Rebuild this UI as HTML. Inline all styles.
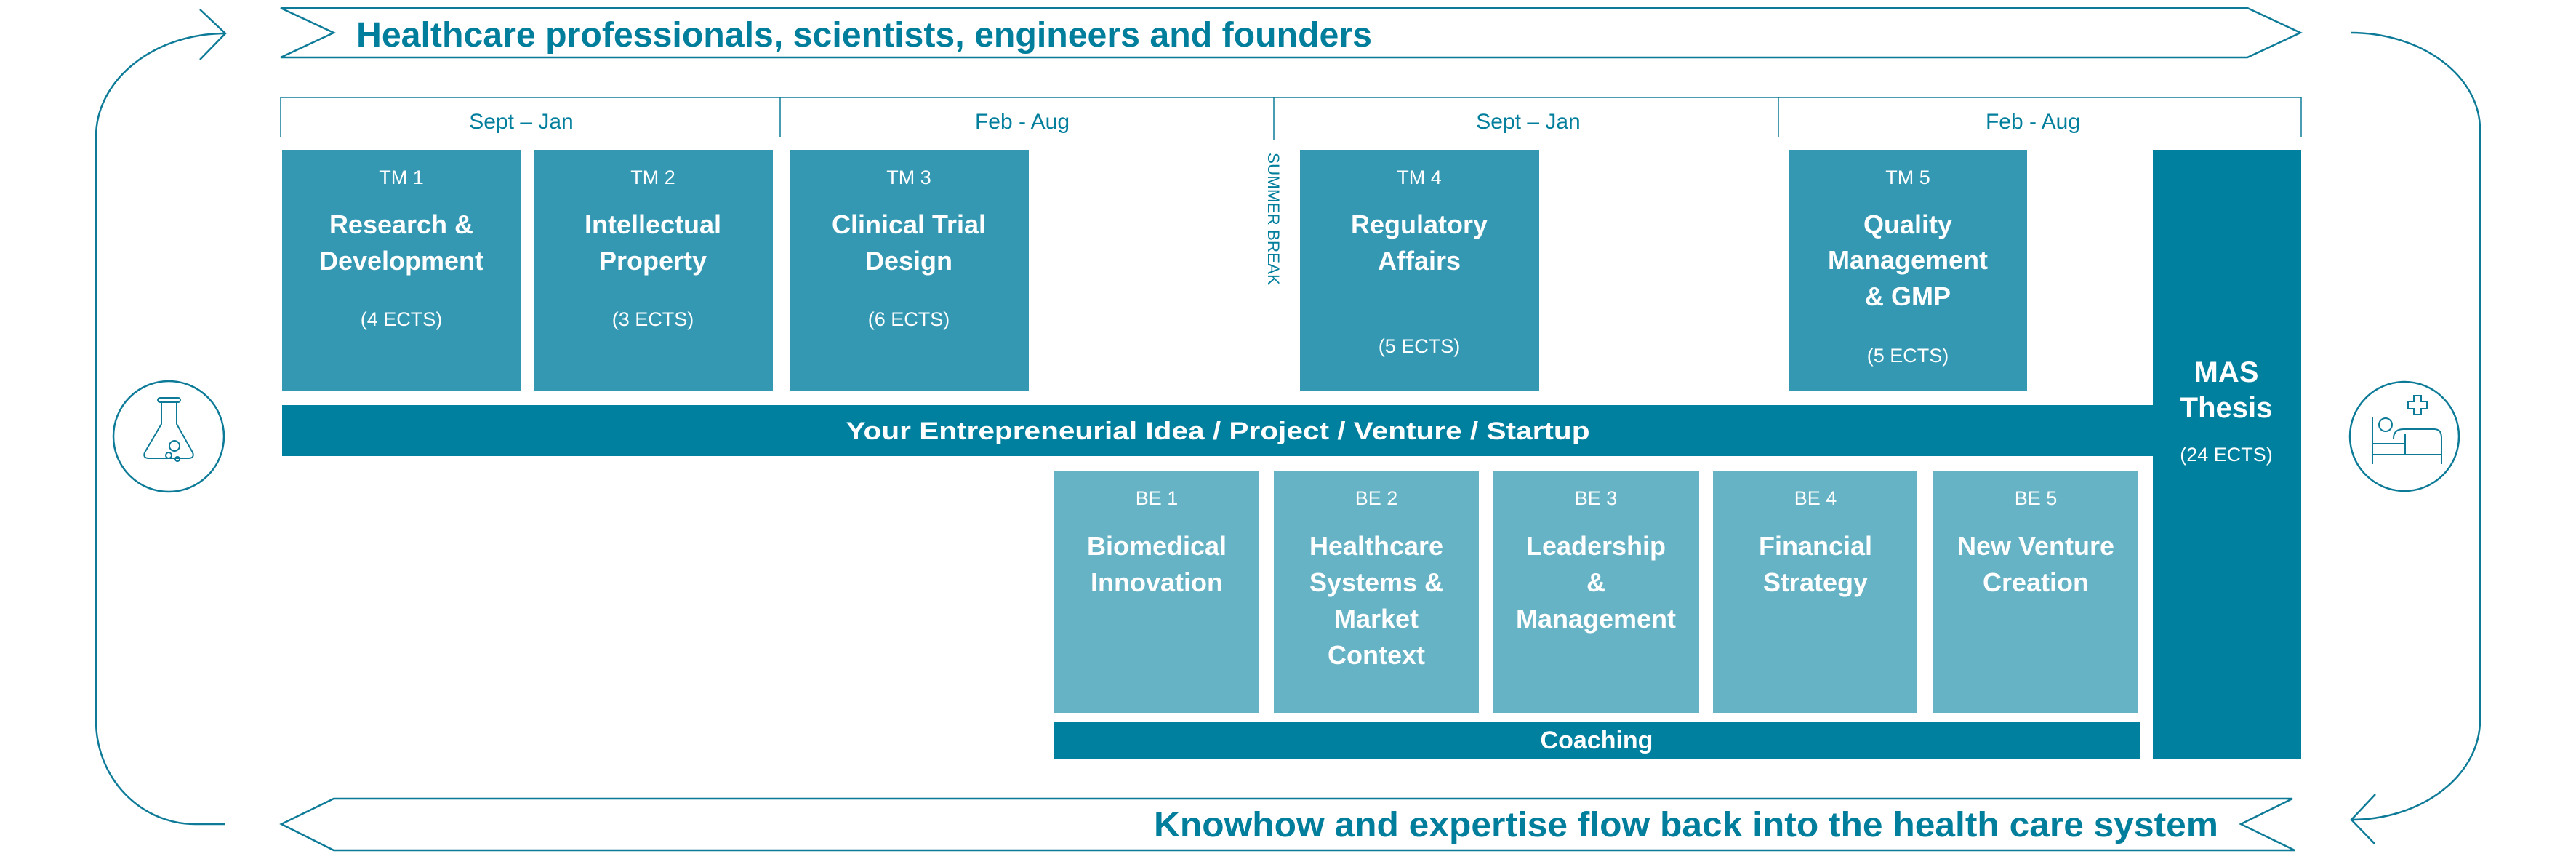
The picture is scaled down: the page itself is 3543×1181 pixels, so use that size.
<!DOCTYPE html>
<html><head><meta charset="utf-8"><style>
html,body{margin:0;padding:0;background:#fff;}
svg{display:block;}
text{font-family:"Liberation Sans",sans-serif;}
</style></head><body>
<svg width="3543" height="1181" viewBox="0 0 3543 1181" xmlns="http://www.w3.org/2000/svg">
<g fill="none" stroke="#0d7b98" stroke-width="2.5">
  <polygon points="386,11 3091,11 3164,45 3091,79 386,79 459,45"/>
  <polygon points="459,1098 3153,1098 3082,1133 3156,1169 459,1169 387,1133"/>
  <path d="M310,46 A178,142 0 0 0 132,188 L132,991 A136,142 0 0 0 268,1133 L309,1133"/>
  <polyline points="275,13 310,46 275,82"/>
  <path d="M3233,45 A178,133 0 0 1 3411,178 L3411,990 A177,137 0 0 1 3234,1127"/>
  <polyline points="3267,1092 3234,1127 3266,1160"/>
  <polyline points="386,188 386,134 3165,134 3165,188" stroke-width="1.5"/>
  <line x1="1073" y1="134" x2="1073" y2="188" stroke-width="1.5"/>
  <line x1="1752" y1="134" x2="1752" y2="192" stroke-width="1.5"/>
  <line x1="2446" y1="134" x2="2446" y2="188" stroke-width="1.5"/>
  <circle cx="232" cy="600" r="76"/>
  <path d="M222,552 L222,583 L199,622 Q196,630 205,630 L259,630 Q268,630 265,622 L243,583 L243,552" stroke-width="2"/>
  <rect x="217" y="547" width="31" height="6" rx="3" stroke-width="2"/>
  <circle cx="240" cy="613" r="7" stroke-width="2"/>
  <circle cx="232" cy="626" r="4" stroke-width="2"/>
  <circle cx="244" cy="631" r="3" stroke-width="2"/>
  <circle cx="3307" cy="600" r="75"/>
  <g stroke-width="2">
    <line x1="3263" y1="573" x2="3263" y2="638"/>
    <line x1="3263" y1="625" x2="3358" y2="625"/>
    <line x1="3263" y1="610" x2="3308" y2="610"/>
    <line x1="3308" y1="597" x2="3308" y2="625"/>
    <path d="M3292,603 Q3292,590 3306,590 L3348,590 Q3358,590 3358,602 L3358,638"/>
    <circle cx="3281" cy="584" r="9"/>
    <path d="M3320,544 h10 v8 h8 v10 h-8 v8 h-10 v-8 h-8 v-10 h8 z"/>
  </g>
</g>

<g fill="#3498b3">
  <rect x="388" y="206" width="329" height="331"/>
  <rect x="734" y="206" width="329" height="331"/>
  <rect x="1086" y="206" width="329" height="331"/>
  <rect x="1788" y="206" width="329" height="331"/>
  <rect x="2460" y="206" width="328" height="331"/>
</g>
<g fill="#00809f">
  <rect x="388" y="557" width="2575" height="70"/>
  <rect x="2961" y="206" width="204" height="837"/>
  <rect x="1450" y="992" width="1493" height="51"/>
</g>
<g fill="#67b3c6">
  <rect x="1450" y="648" width="282" height="332"/>
  <rect x="1752" y="648" width="282" height="332"/>
  <rect x="2054" y="648" width="283" height="332"/>
  <rect x="2356" y="648" width="281" height="332"/>
  <rect x="2659" y="648" width="282" height="332"/>
</g>

<g fill="#007e9c" font-weight="bold">
  <text x="490" y="64" font-size="48" textLength="1397" lengthAdjust="spacingAndGlyphs">Healthcare professionals, scientists, engineers and founders</text>
  <text x="1587" y="1150" font-size="48" textLength="1464" lengthAdjust="spacingAndGlyphs">Knowhow and expertise flow back into the health care system</text>
</g>
<g fill="#007e9c" font-size="30" text-anchor="middle">
  <text x="717" y="177">Sept – Jan</text>
  <text x="1406" y="177">Feb - Aug</text>
  <text x="2102" y="177">Sept – Jan</text>
  <text x="2796" y="177">Feb - Aug</text>
  <text transform="translate(1744,301) rotate(90)" font-size="22" textLength="182" lengthAdjust="spacingAndGlyphs">SUMMER BREAK</text>
</g>

<g fill="#fff" text-anchor="middle">
  <g font-size="27">
    <text x="552" y="253">TM 1</text>
    <text x="898" y="253">TM 2</text>
    <text x="1250" y="253">TM 3</text>
    <text x="1952" y="253">TM 4</text>
    <text x="2624" y="253">TM 5</text>
    <text x="552" y="448">(4 ECTS)</text>
    <text x="898" y="448">(3 ECTS)</text>
    <text x="1250" y="448">(6 ECTS)</text>
    <text x="1952" y="485">(5  ECTS)</text>
    <text x="2624" y="498">(5 ECTS)</text>
    <text x="3062" y="634">(24 ECTS)</text>
    <text x="1591" y="694">BE 1</text>
    <text x="1893" y="694">BE 2</text>
    <text x="2195" y="694">BE 3</text>
    <text x="2497" y="694">BE 4</text>
    <text x="2800" y="694">BE 5</text>
  </g>
  <g font-size="36" font-weight="bold">
    <text x="552" y="321">Research &amp;</text>
    <text x="552" y="371">Development</text>
    <text x="898" y="321">Intellectual</text>
    <text x="898" y="371">Property</text>
    <text x="1250" y="321">Clinical Trial</text>
    <text x="1250" y="371">Design</text>
    <text x="1952" y="321">Regulatory</text>
    <text x="1952" y="371">Affairs</text>
    <text x="2624" y="321">Quality</text>
    <text x="2624" y="370">Management</text>
    <text x="2624" y="420">&amp; GMP</text>
    <text x="3062" y="525" font-size="40">MAS</text>
    <text x="3062" y="574" font-size="40">Thesis</text>
    <text x="1591" y="763">Biomedical</text>
    <text x="1591" y="813">Innovation</text>
    <text x="1893" y="763">Healthcare</text>
    <text x="1893" y="813">Systems &amp;</text>
    <text x="1893" y="863">Market</text>
    <text x="1893" y="913">Context</text>
    <text x="2195" y="763">Leadership</text>
    <text x="2195" y="813">&amp;</text>
    <text x="2195" y="863">Management</text>
    <text x="2497" y="763">Financial</text>
    <text x="2497" y="813">Strategy</text>
    <text x="2800" y="763">New Venture</text>
    <text x="2800" y="813">Creation</text>
    <text x="1675" y="604" font-size="34" textLength="1023" lengthAdjust="spacingAndGlyphs">Your Entrepreneurial Idea / Project / Venture / Startup</text>
    <text x="2196" y="1029" font-size="34">Coaching</text>
  </g>
</g>
</svg>
</body></html>
